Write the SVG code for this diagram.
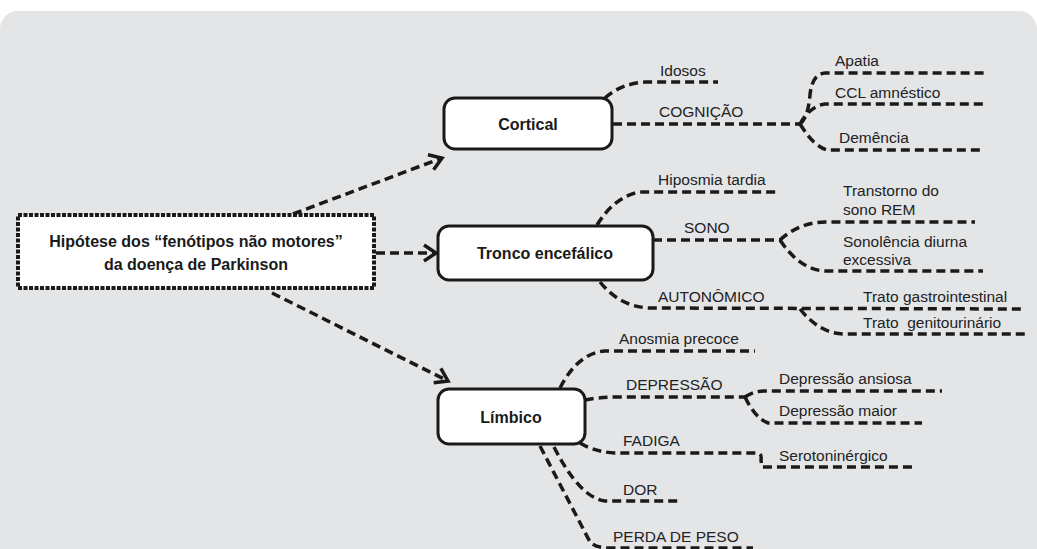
<svg xmlns="http://www.w3.org/2000/svg" width="1037" height="549" viewBox="0 0 1037 549">
<defs>
<style>
.lbl{font-family:"Liberation Sans",Arial,sans-serif;font-size:15.5px;fill:#222}
.bold{font-family:"Liberation Sans",Arial,sans-serif;font-size:16px;font-weight:bold;fill:#1a1a1a}
.dash{fill:none;stroke:#1a1a1a;stroke-width:3.5;stroke-dasharray:9 5;stroke-linecap:butt}
.node{fill:#fff;stroke:#1a1a1a;stroke-width:3}
</style>
<marker id="arr" markerUnits="userSpaceOnUse" markerWidth="30" markerHeight="30" viewBox="-15 -15 30 30" refX="0" refY="0" orient="auto">
<path d="M-12,-8 L0,0 L-12,8" fill="none" stroke="#1a1a1a" stroke-width="3.5" stroke-dasharray="none" stroke-linejoin="miter"/>
</marker>
</defs>
<rect x="0" y="0" width="1037" height="549" fill="#fff"/>
<rect x="0" y="11" width="1037" height="570" rx="18" fill="#e4e5e7"/>

<g id="connectors">
<path class="dash" d="M293,214 L442,158" marker-end="url(#arr)"/>
<path class="dash" d="M376,253 L436,253" marker-end="url(#arr)"/>
<path class="dash" d="M272,293 L448,381" marker-end="url(#arr)"/>

<path class="dash" d="M605,98 Q620,84 645,82 L718,82"/>
<path class="dash" d="M613,124 L800,124"/>
<path class="dash" d="M800,124 Q808,118 810,95 Q812,74 825,73 L985,73"/>
<path class="dash" d="M800,124 Q810,106 825,104 L985,104"/>
<path class="dash" d="M800,124 Q815,148 828,150 L982,150"/>

<path class="dash" d="M597,225 Q615,196 640,192 L780,192"/>
<path class="dash" d="M653,240 L780,240"/>
<path class="dash" d="M780,240 Q800,222 825,222 L975,222"/>
<path class="dash" d="M780,240 Q800,270 825,271 L983,271"/>
<path class="dash" d="M600,282 Q620,307 650,308 L1025,309"/>
<path class="dash" d="M800,309 Q820,334 845,334 L1025,334"/>

<path class="dash" d="M560,388 Q578,353 605,351 L755,351"/>
<path class="dash" d="M585,400 Q600,397 620,397 L745,397"/>
<path class="dash" d="M745,397 Q753,391 765,391 L942,391"/>
<path class="dash" d="M745,397 Q755,418 768,423 L922,423"/>
<path class="dash" d="M580,443 Q595,452 615,453 L758,453 Q762,454 761,460 L762,467 L915,467"/>
<path class="dash" d="M554,447 Q580,498 605,501 L678,501"/>
<path class="dash" d="M540,446 L590,542 Q596,548 610,548 L753,548"/>
</g>

<g id="n-main">
<rect x="18" y="215" width="356" height="73" fill="#fff" stroke="#1a1a1a" stroke-width="4" stroke-dasharray="4 1.5"/>
<text class="bold" x="196" y="247" text-anchor="middle">Hipótese dos “fenótipos não motores”</text>
<text class="bold" x="196" y="270" text-anchor="middle">da doença de Parkinson</text>
</g>
<g id="n-cortical">
<rect class="node" x="444" y="98" width="168" height="51" rx="11"/>
<text class="bold" x="528" y="130" text-anchor="middle">Cortical</text>
</g>
<g id="n-tronco">
<rect class="node" x="438" y="226" width="215" height="54" rx="11"/>
<text class="bold" x="545" y="259" text-anchor="middle">Tronco encefálico</text>
</g>
<g id="n-limbico">
<rect class="node" x="438" y="389" width="147" height="55" rx="11"/>
<text class="bold" x="511" y="423" text-anchor="middle">Límbico</text>
</g>

<g id="labels">
<text class="lbl" x="660" y="76">Idosos</text>
<text class="lbl" x="659" y="117">COGNIÇÃO</text>
<text class="lbl" x="835" y="66">Apatia</text>
<text class="lbl" x="835" y="98">CCL amnéstico</text>
<text class="lbl" x="839" y="143">Demência</text>

<text class="lbl" x="658" y="185">Hiposmia tardia</text>
<text class="lbl" x="684" y="233">SONO</text>
<text class="lbl" x="843" y="196">Transtorno do</text>
<text class="lbl" x="843" y="215">sono REM</text>
<text class="lbl" x="843" y="247">Sonolência diurna</text>
<text class="lbl" x="843" y="265">excessiva</text>
<text class="lbl" x="658" y="302">AUTONÔMICO</text>
<text class="lbl" x="863" y="302">Trato gastrointestinal</text>
<text class="lbl" x="863" y="328" xml:space="preserve">Trato  genitourinário</text>

<text class="lbl" x="619" y="344">Anosmia precoce</text>
<text class="lbl" x="626" y="390">DEPRESSÃO</text>
<text class="lbl" x="779" y="384">Depressão ansiosa</text>
<text class="lbl" x="779" y="416">Depressão maior</text>
<text class="lbl" x="623" y="446">FADIGA</text>
<text class="lbl" x="779" y="461">Serotoninérgico</text>
<text class="lbl" x="623" y="495">DOR</text>
<text class="lbl" x="613" y="542">PERDA DE PESO</text>
</g>
</svg>
